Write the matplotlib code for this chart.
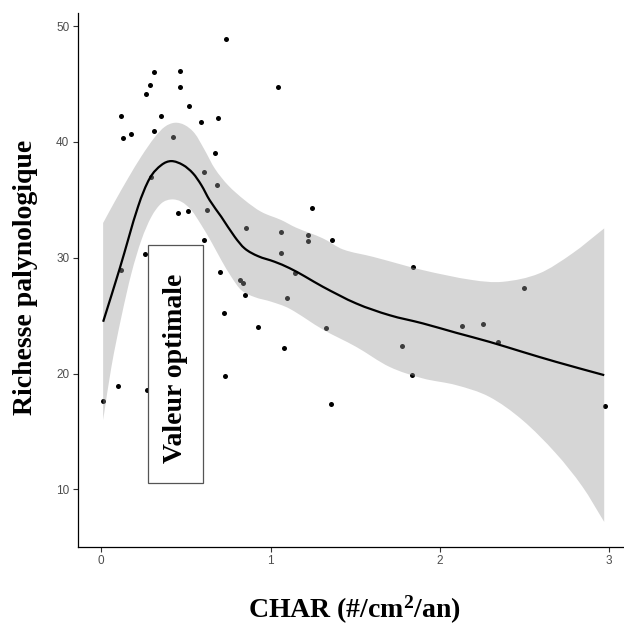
import numpy as np
import matplotlib
matplotlib.use("Agg")
import matplotlib.pyplot as plt
from matplotlib.patches import Rectangle, PathPatch
from matplotlib.path import Path

# ---- data ----
char_x = [0.009, 0.097, 0.115, 0.115, 0.127, 0.178, 0.258, 0.264, 0.268, 0.288,
          0.291, 0.310, 0.312, 0.355, 0.426, 0.453, 0.463, 0.467, 0.514, 0.520,
          0.589, 0.605, 0.607, 0.622, 0.670, 0.686, 0.687, 0.699, 0.727, 0.733,
          0.735, 0.821, 0.837, 0.847, 0.853, 0.925, 1.045, 1.059, 1.059, 1.079,
          1.096, 1.144, 1.222, 1.222, 1.242, 1.326, 1.358, 1.362, 1.779, 1.834,
          1.844, 2.131, 2.255, 2.345, 2.497, 2.975]
richesse = [17.6, 18.9, 28.9, 42.25, 40.3, 40.7, 30.3, 44.15, 18.6, 44.9,
            37.0, 40.9, 46.0, 42.2, 40.4, 33.9, 46.1, 44.7, 34.05, 43.1,
            41.7, 31.5, 37.4, 34.1, 39.0, 36.3, 42.1, 28.8, 25.2, 19.8,
            48.9, 28.1, 27.8, 26.8, 32.6, 24.0, 44.7, 32.2, 30.4, 22.2,
            26.5, 28.7, 32.0, 31.4, 34.3, 23.9, 17.4, 31.5, 22.4, 19.9,
            29.2, 24.1, 24.3, 22.7, 27.4, 17.2]

# loess smooth curve
smooth_x = [0.011, 0.109, 0.217, 0.286, 0.355, 0.414, 0.483, 0.542, 0.591, 0.640,
            0.709, 0.788, 0.847, 0.925, 1.024, 1.112, 1.201, 1.309, 1.506, 1.702,
            1.899, 2.096, 2.292, 2.488, 2.686, 2.971]
smooth_fit = [24.47, 29.07, 34.40, 36.85, 38.0, 38.34, 38.0, 37.28, 36.27, 34.97,
              33.53, 31.81, 30.80, 30.14, 29.65, 29.1, 28.4, 27.49, 26.05, 25.04,
              24.33, 23.52, 22.74, 21.87, 21.01, 19.86]
# confidence band, upper edge
upper_x = [0.011, 0.080, 0.158, 0.237, 0.316, 0.375, 0.434, 0.493, 0.552, 0.611,
           0.670, 0.748, 0.847, 0.945, 1.063, 1.150, 1.309, 1.427, 1.604, 1.899,
           2.193, 2.371, 2.587, 2.783, 2.971]
upper_y = [33.0, 34.85, 36.85, 38.75, 40.4, 41.3, 41.65, 41.45, 40.73, 39.29,
           37.71, 36.27, 34.97, 33.96, 33.25, 32.6, 31.67, 30.72, 30.08, 28.93,
           28.07, 27.92, 28.64, 30.37, 32.53]
# confidence band, lower edge
lower_x = [0.011, 0.060, 0.119, 0.178, 0.237, 0.296, 0.355, 0.414, 0.473, 0.532,
           0.591, 0.650, 0.709, 0.768, 0.827, 0.906, 1.004, 1.112, 1.309, 1.506,
           1.702, 1.899, 2.096, 2.292, 2.488, 2.686, 2.843, 2.971]
lower_y = [15.98, 20.58, 24.90, 28.64, 31.52, 33.53, 34.69, 35.03, 34.83, 34.11,
           32.82, 31.37, 29.79, 28.35, 27.2, 26.6, 26.2, 25.6, 23.8, 22.30,
           20.58, 19.58, 19.0, 17.99, 15.98, 13.10, 10.22, 7.19]

x_ticks = [0, 1, 2, 3]
y_ticks = [10, 20, 30, 40, 50]
annot_label = "Valeur optimale"
annot_x = [0.278, 0.601]
annot_y = [10.56, 31.09]


def hermite_bezier(xs, ys):
    """Vertices/codes of a smooth cubic path through the given points."""
    xs = np.asarray(xs, float)
    ys = np.asarray(ys, float)
    n = len(xs)
    m = np.empty(n)
    m[0] = (ys[1] - ys[0]) / (xs[1] - xs[0])
    m[-1] = (ys[-1] - ys[-2]) / (xs[-1] - xs[-2])
    m[1:-1] = (ys[2:] - ys[:-2]) / (xs[2:] - xs[:-2])
    verts = [(xs[0], ys[0])]
    codes = [Path.MOVETO]
    for i in range(n - 1):
        dx = xs[i + 1] - xs[i]
        verts += [(xs[i] + dx / 3, ys[i] + m[i] * dx / 3),
                  (xs[i + 1] - dx / 3, ys[i + 1] - m[i + 1] * dx / 3),
                  (xs[i + 1], ys[i + 1])]
        codes += [Path.CURVE4] * 3
    return verts, codes


# ---- figure ----
W, H = 624, 625
fig = plt.figure(figsize=(W / 100, H / 100), dpi=100)
ax_l, ax_r, ax_t, ax_b = 77.7, 630.0, 13.3, 546.7
ax = fig.add_axes([ax_l / W, 1 - ax_b / H, (ax_r - ax_l) / W, (ax_b - ax_t) / H])

ax.scatter(char_x, richesse, s=13, color="black", linewidths=0, zorder=2)

uv, uc = hermite_bezier(upper_x, upper_y)
lv, lc = hermite_bezier(lower_x[::-1], lower_y[::-1])
band_verts = uv + [lv[0]] + lv[1:] + [uv[0]]
band_codes = uc + [Path.LINETO] + lc[1:] + [Path.CLOSEPOLY]
ax.add_patch(PathPatch(Path(band_verts, band_codes), facecolor="#999999",
                       alpha=0.4, linewidth=0, zorder=3))

sv, sc = hermite_bezier(smooth_x, smooth_fit)
ax.add_patch(PathPatch(Path(sv, sc), facecolor="none", edgecolor="black",
                       lw=1.6, zorder=4, capstyle="butt"))

ax.add_patch(Rectangle((annot_x[0], annot_y[0]), annot_x[1] - annot_x[0],
                       annot_y[1] - annot_y[0], facecolor="white",
                       edgecolor="#555555", lw=0.9, zorder=5))
ax.text((annot_x[0] + annot_x[1]) / 2, (annot_y[0] + annot_y[1]) / 2 - 0.4, annot_label,
        rotation=90, ha="center", va="center", fontsize=20, fontweight="bold",
        family="Liberation Serif", color="black", zorder=6)

xmin, xmax = min(char_x), max(char_x)
ax.set_xlim(xmin - 0.05 * (xmax - xmin), xmax + 0.05 * (xmax - xmin))
ax.set_ylim(5.05, 51.1)
ax.set_xticks(x_ticks)
ax.set_yticks(y_ticks)
for sp in ["top", "right"]:
    ax.spines[sp].set_visible(False)
for sp in ["left", "bottom"]:
    ax.spines[sp].set_linewidth(0.9)
    ax.spines[sp].set_color("black")
ax.tick_params(direction="out", length=3.5, width=0.8, color="#333333",
               labelcolor="#4D4D4D", labelsize=8.5, pad=2.5)
for lab in ax.get_xticklabels() + ax.get_yticklabels():
    lab.set_family("Liberation Sans")

fig.text(354 / W, 1 - 618 / H, "CHAR (#/cm$\\mathregular{^2}$/an)", ha="center",
         va="baseline", fontsize=20, fontweight="bold", family="Liberation Serif")
fig.text(25.5 / W, 1 - 277 / H, "Richesse palynologique", rotation=90, ha="center",
         va="center", fontsize=20, fontweight="bold", family="Liberation Serif")

fig.savefig("out.png", dpi=100)
